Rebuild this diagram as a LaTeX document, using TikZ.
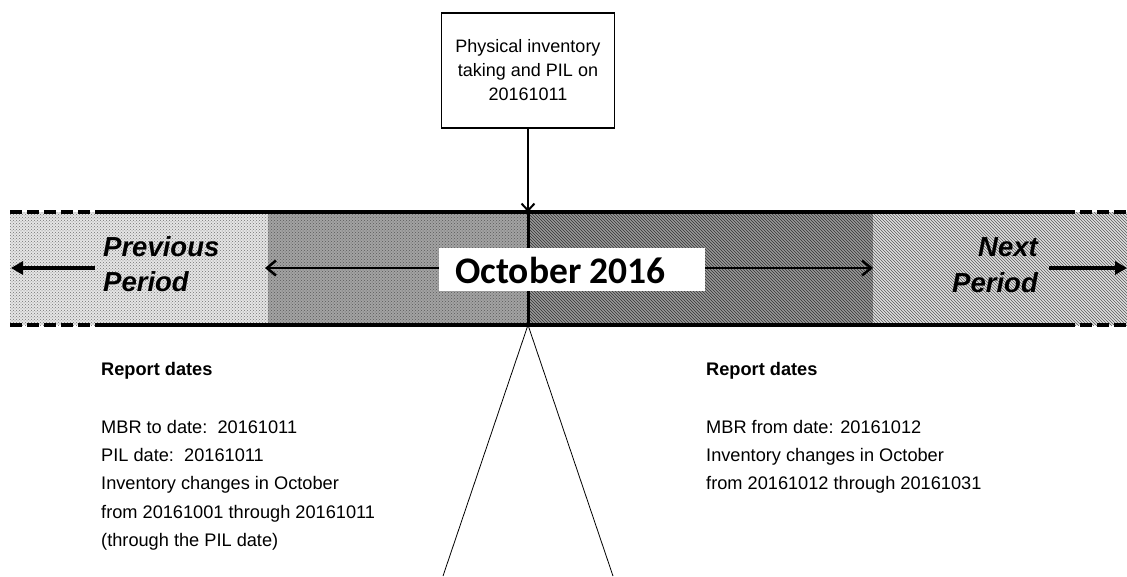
\documentclass[tikz,border=0pt]{standalone}
\usepackage{fontspec}
\setmainfont{Liberation Sans}
\newfontfamily\calibfont{Carlito}
\usetikzlibrary{patterns,arrows.meta}
\begin{document}
\begin{tikzpicture}[x=1pt,y=-1pt,
  bandline/.style={line width=3.2pt},
  dashline/.style={line width=3.2pt, dash pattern=on 12pt off 5pt},
  bigarrow/.style={line width=4pt,-{Triangle[length=12pt,width=13pt]}},
  montharrow/.style={line width=2.5pt,-{Straight Barb[length=9pt,width=15pt]}},
  toparrow/.style={line width=2pt,-{Straight Barb[length=7pt,width=13pt]}},
  period/.style={inner sep=0pt, font=\bfseries\itshape\fontsize{27.5}{30}\selectfont},
  body/.style={inner sep=0pt, anchor=base west, font=\fontsize{18.2}{28}\selectfont},
  head/.style={inner sep=0pt, anchor=base west, font=\bfseries\fontsize{18.2}{28}\selectfont},
  thin/.style={line width=0.8pt}
]
\useasboundingbox (0,0) rectangle (1127,576);

% band fills
\fill[black!10] (10,212) rectangle (268,325);
\fill[pattern=crosshatch dots, pattern color=black!55] (10,212) rectangle (268,325);
\fill[black!36] (268,212) rectangle (528,325);
\fill[pattern=crosshatch dots, pattern color=black!65] (268,212) rectangle (528,325);
\fill[black!40] (528,212) rectangle (873,325);
\fill[pattern=north west lines, pattern color=black!80] (528,212) rectangle (873,325);
\fill[black!12] (873,212) rectangle (1127,325);
\fill[pattern=north west lines, pattern color=black!65] (873,212) rectangle (1127,325);

% band borders
\coordinate (tl) at (10,212);
\coordinate (tls) at (95,212);
\coordinate (trs) at (1063,212);
\coordinate (tr) at (1127,212);
\coordinate (bl) at (10,325);
\coordinate (bls) at (95,325);
\coordinate (brs) at (1063,325);
\coordinate (br) at (1127,325);
\draw[dashline] (tl) -- (tls);
\draw[bandline] (tls) -- (trs);
\draw[dashline] (trs) -- (tr);
\draw[dashline] (bl) -- (bls);
\draw[bandline] (bls) -- (brs);
\draw[dashline] (brs) -- (br);

% centre line
\coordinate (bandtop) at (528,212);
\coordinate (bandbot) at (528,325);
\draw[line width=3pt] (bandtop) -- (bandbot);

% previous / next arrows
\coordinate (prevtail) at (95,268);
\coordinate (prevtip) at (11,268);
\coordinate (nexttail) at (1049,268);
\coordinate (nexttip) at (1127,268);
\draw[bigarrow] (prevtail) -- (prevtip);
\draw[bigarrow] (nexttail) -- (nexttip);

% month box
\node[fill=white, minimum width=266pt, minimum height=43pt, inner sep=0pt] (oct) at (572,269.5) {};
\node[inner sep=0pt, font=\calibfont\bfseries\fontsize{37.5}{40}\selectfont] (octtext) at (560.5,270) {October 2016};
\coordinate (monthstart) at (265,268);
\coordinate (monthend) at (873,268);
\draw[montharrow] (oct.west |- monthstart) -- (monthstart);
\draw[montharrow] (oct.east |- monthend) -- (monthend);

% period labels
\node[period, anchor=base west] (prev1) at (103,256.7) {Previous};
\node[period, anchor=base west] (prev2) at (103,291.7) {Period};
\node[period, anchor=base east] (next1) at (1038,256.7) {Next};
\node[period, anchor=base east] (next2) at (1038,292.7) {Period};

% top box
\node[draw, line width=1.6pt, minimum width=173pt, minimum height=115pt, align=center,
      font=\fontsize{18}{24}\selectfont] (pit) at (528,70.5)
      {Physical inventory\\taking and PIL on\\20161011};
\draw[toparrow] (pit.south) -- (bandtop);

% triangle
\coordinate (triL) at (443,576);
\coordinate (triR) at (613,576);
\draw[thin] (triL) -- (bandbot) -- (triR);

% left text
\node[head] (lh) at (101,375.7) {Report dates};
\node[body] (l1) at (101,433.3) {MBR to date:\ \ 20161011};
\node[body] (l2) at (101,461.6) {PIL date:\ \ 20161011};
\node[body] (l3) at (101,489.9) {Inventory changes in October};
\node[body] (l4) at (101,518.2) {from 20161001 through 20161011};
\node[body] (l5) at (101,546.5) {(through the PIL date)};

% right text
\node[head] (rh) at (706,375.7) {Report dates};
\node[body] (r1) at (706,433.3) {MBR from date: 20161012};
\node[body] (r2) at (706,461.6) {Inventory changes in October};
\node[body] (r3) at (706,489.9) {from 20161012 through 20161031};
\end{tikzpicture}
\end{document}
